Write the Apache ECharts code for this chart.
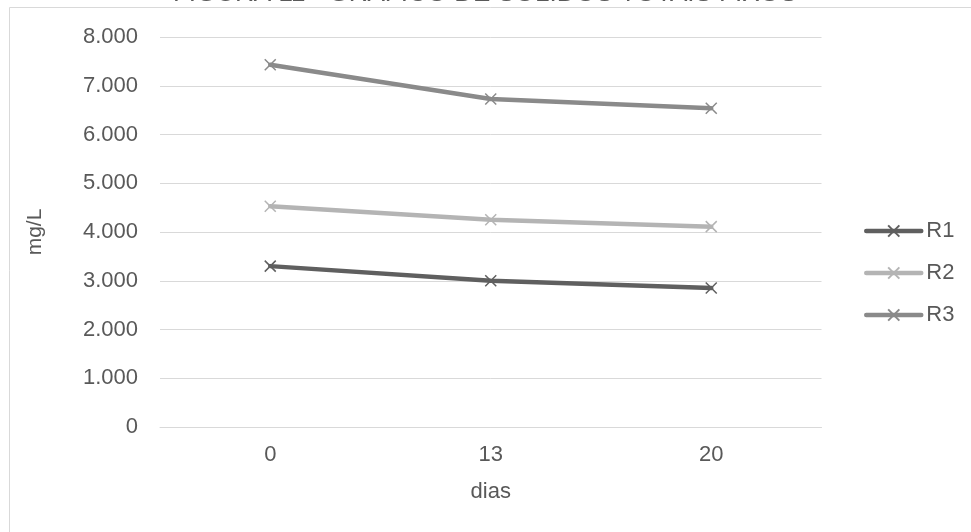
<!DOCTYPE html>
<html>
<head>
<meta charset="utf-8">
<script src="https://cdn.jsdelivr.net/npm/echarts@6/dist/echarts.min.js"></script>
<style>
html,body{margin:0;padding:0;background:#fff;}
#c{width:971px;height:532px;}
</style>
</head>
<body>
<div id="c"></div>
<script>
const titleText = 'FIGURA 11 - GRÁFICO DE SÓLIDOS TOTAIS FIXOS';
const categories = ['0', '13', '20'];
const seriesNames = ['R1', 'R2', 'R3'];
const r1 = [3300, 3000, 2850];
const r2 = [4530, 4250, 4110];
const r3 = [7430, 6730, 6540];
const yTicks = [0, 1000, 2000, 3000, 4000, 5000, 6000, 7000, 8000];
const colors = ['#5f5f5f', '#b4b4b4', '#8a8a8a'];
const values = [r1, r2, r3];

const font = '"Liberation Sans", Arial, sans-serif';
const fs = 22;
const xSym = 'path://M0,0 L10,10 M10,0 L0,10';

const chart = echarts.init(document.getElementById('c'), null, {renderer: 'canvas'});
chart.setOption({
  animation: false,
  backgroundColor: '#fff',
  textStyle: {fontFamily: font},
  graphic: [
    {type: 'rect', shape: {x: 9.5, y: 7.5, width: 1000, height: 600},
     style: {fill: 'none', stroke: '#d9d9d9', lineWidth: 1}, z: -1},
    {type: 'text', x: 485, y: -6, style: {text: titleText, font: '26px ' + font,
      fill: '#595959', textAlign: 'center', textVerticalAlign: 'middle'}}
  ],
  grid: {left: 160, right: 149.5, top: 37, bottom: 105},
  legend: {
    orient: 'vertical', left: 859, top: 215,
    itemWidth: 55, itemHeight: 14, itemGap: 20,
    textStyle: {fontSize: fs, lineHeight: 22, color: '#595959', fontFamily: font},
    lineStyle: {width: 4.5, cap: 'round'},
    data: seriesNames
  },
  xAxis: {
    type: 'category', data: categories, boundaryGap: true,
    name: 'dias', nameLocation: 'middle', nameGap: 54,
    nameTextStyle: {fontSize: fs, color: '#595959', fontFamily: font},
    axisLine: {lineStyle: {color: '#d9d9d9', width: 1}},
    axisTick: {show: false},
    axisLabel: {fontSize: fs, color: '#595959', margin: 17, fontFamily: font}
  },
  yAxis: {
    type: 'value', min: 0, max: 8000, interval: 1000,
    name: 'mg/L', nameLocation: 'middle', nameGap: 114, nameRotate: 90,
    nameTextStyle: {fontSize: 21, color: '#595959', fontFamily: font},
    axisLine: {show: false}, axisTick: {show: false},
    splitLine: {lineStyle: {color: '#d9d9d9', width: 1}},
    axisLabel: {fontSize: fs, color: '#595959', margin: 22, fontFamily: font,
      formatter: v => yTicks.includes(v) ? (v === 0 ? '0' : v.toLocaleString('de-DE')) : ''}
  },
  series: seriesNames.map((n, i) => ({
    name: n, type: 'line', data: values[i],
    symbol: xSym, symbolSize: 11,
    lineStyle: {color: colors[i], width: 4.5, cap: 'round'},
    itemStyle: {color: colors[i], borderColor: colors[i], borderWidth: 1.5},
    z: 2
  }))
});
</script>
</body>
</html>
